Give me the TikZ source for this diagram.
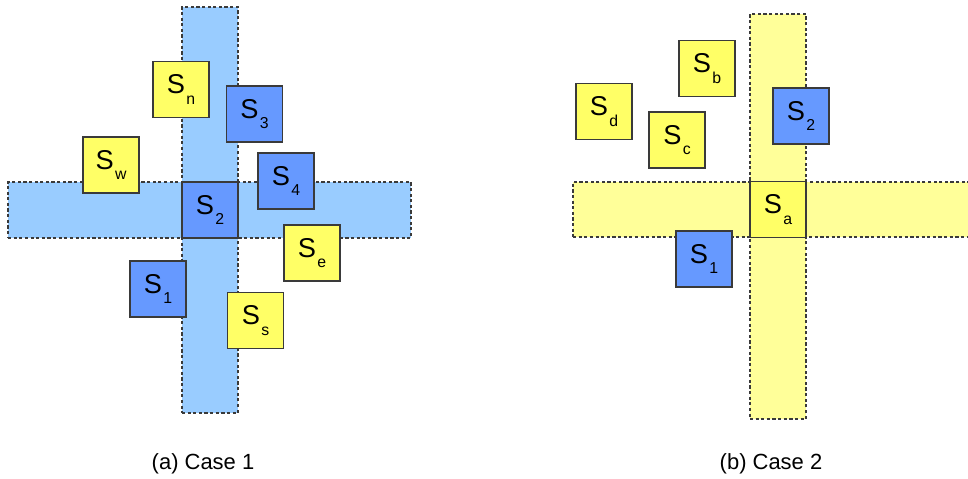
\documentclass[tikz,border=0pt]{standalone}
\usepackage{fontspec}
\setmainfont{Liberation Sans}
\usepackage{tikz}
\usetikzlibrary{positioning}

\definecolor{stripblue}{HTML}{99CCFF}
\definecolor{sqblue}{HTML}{6699FF}
\definecolor{stripyellow}{HTML}{FFFF99}
\definecolor{sqyellow}{HTML}{FFFF66}
\definecolor{edgegray}{HTML}{3A3A3A}

% sensor label: S with a lowered index
\newcommand{\sens}[1]{S\kern0.8pt\raisebox{-6pt}{\fontsize{9}{9}\selectfont #1}}

\begin{document}
\begin{tikzpicture}[
  x=0.02cm, y=-0.02cm,
  strip/.style = {draw=edgegray, line width=0.7pt, dash pattern=on 1.8pt off 1.4pt,
                  inner sep=0pt},
  sq/.style    = {draw=edgegray, line width=0.6pt, inner sep=0pt,
                  minimum width=1.12cm, minimum height=1.12cm,
                  font=\fontsize{15.5}{15.5}\selectfont},
  bluesq/.style   = {sq, fill=sqblue},
  yellowsq/.style = {sq, fill=sqyellow},
  caption/.style  = {font=\fontsize{12.5}{14}\selectfont}
]
\useasboundingbox (0,0) rectangle (968,479);

% Case 1
\node[strip, fill=stripblue, minimum width=1.12cm, minimum height=8.12cm] (vstripA) at (210,210) {};
\node[strip, fill=stripblue, minimum width=8.06cm, minimum height=1.12cm] (hstripA) at (209.5,210) {};

\node[bluesq] (s2A) at (210,210) {\sens{2}};
\node[yellowsq] (sn) at (181,89.5) {\sens{n}};
\node[bluesq] (s3) at (254.5,114) {\sens{3}};
\node[yellowsq] (sw) at (111,165) {\sens{w}};
\node[bluesq] (s4) at (286,181) {\sens{4}};
\node[yellowsq] (se) at (312,253) {\sens{e}};
\node[bluesq] (s1A) at (158,289) {\sens{1}};
\node[yellowsq] (ss) at (255.5,320.5) {\sens{s}};

\node[caption] (capA) at (203,464) {(a) Case 1};

% Case 2
\node[strip, fill=stripyellow, minimum width=1.12cm, minimum height=8.1cm] (vstripB) at (778,216.5) {};
\node[strip, fill=stripyellow, minimum width=7.98cm, minimum height=1.1cm] (hstripB) at (772.5,209.5) {};

\node[yellowsq] (sa) at (778,209.5) {\sens{a}};
\node[yellowsq] (sb) at (707,68.5) {\sens{b}};
\node[yellowsq] (sd) at (604,111.5) {\sens{d}};
\node[yellowsq] (sc) at (677,140) {\sens{c}};
\node[bluesq] (s2B) at (801,116) {\sens{2}};
\node[bluesq] (s1B) at (704,259) {\sens{1}};

\node[caption] (capB) at (771,464) {(b) Case 2};

\end{tikzpicture}
\end{document}
